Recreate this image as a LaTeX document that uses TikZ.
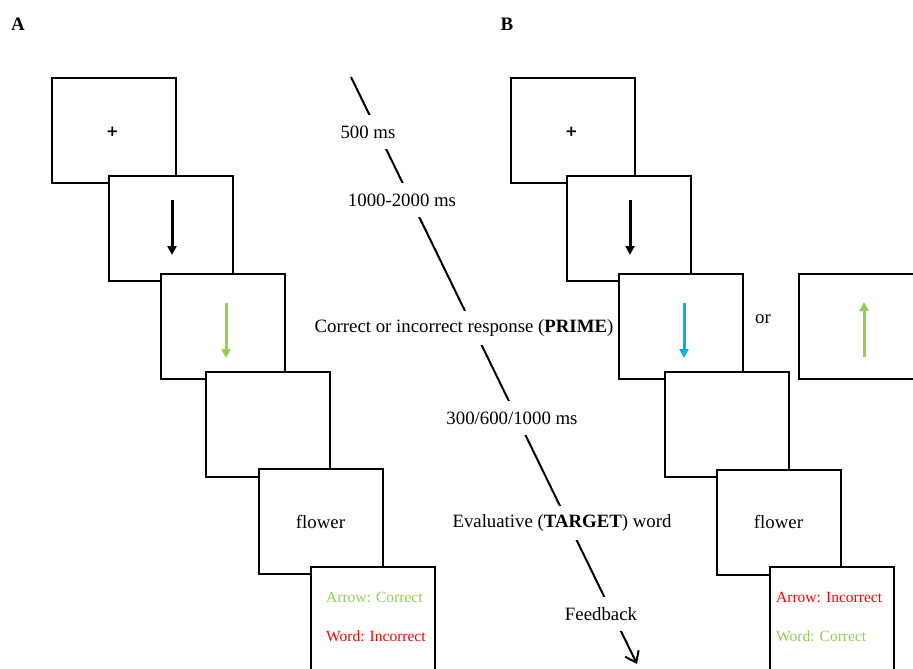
\documentclass[tikz,border=0pt]{standalone}
\usepackage{fontspec}
\setmainfont{Liberation Serif}
\newfontfamily\crossfont{DejaVu Sans}
\usetikzlibrary{arrows.meta}
\definecolor{ogreen}{RGB}{146,208,80}
\definecolor{oblue}{RGB}{0,176,240}
\definecolor{ored}{RGB}{255,0,0}
\begin{document}
\begin{tikzpicture}[x=1pt,y=-1pt,
  box/.style={draw,line width=2pt,fill=white,minimum width=124pt,minimum height=105pt,inner sep=0pt},
  lbl/.style={font=\fontsize{18.8}{22}\selectfont,fill=white,inner sep=1pt,minimum height=34pt},
  txt/.style={font=\fontsize{18.8}{22}\selectfont,inner sep=0pt},
  cross/.style={font=\crossfont\fontsize{15}{17}\selectfont\bfseries,inner sep=0pt},
  fb/.style={font=\fontsize{15.5}{18}\selectfont,inner sep=0pt,anchor=west},
  panel/.style={font=\fontsize{19}{22}\selectfont\bfseries,inner sep=0pt},
  stim/.style={line width=3pt,-{Triangle[length=9pt,width=9pt]}},
  timeline/.style={line width=2pt,-{Straight Barb[length=10pt,width=15pt,line width=2pt]}}]
\clip (0,0) rectangle (913,669);
\fill[white] (0,0) rectangle (913,669);
% panel labels
\node[panel] (pA) at (18,24) {A};
\node[panel] (pB) at (507,24) {B};
% panel A boxes
\node[box] (a1) at (113.5,130.5) {};
\node[cross] (a1c) at (112.5,132) {+};
\node[box] (a2) at (170.5,228) {};
\coordinate (a2s) at (172,200); \coordinate (a2e) at (172,255);
\draw[stim] (a2s) -- (a2e);
\node[box] (a3) at (223,326) {};
\coordinate (a3s) at (226,303); \coordinate (a3e) at (226,358);
\draw[stim,ogreen] (a3s) -- (a3e);
\node[box] (a4) at (268,424.5) {};
\node[box] (a5) at (320.5,521.5) {};
\node[txt] (a5t) at (a5) {flower};
\node[box] (a6) at (373,619.5) {};
\node[fb,text=ogreen] (a6a) at (326,597) {Arrow: Correct};
\node[fb,text=ored] (a6b) at (326,636) {Word: Incorrect};
% panel B boxes
\node[box] (b1) at (572.5,130.5) {};
\node[cross] (b1c) at (571.5,132) {+};
\node[box] (b2) at (628.5,228.5) {};
\coordinate (b2s) at (630,200); \coordinate (b2e) at (630,255);
\draw[stim] (b2s) -- (b2e);
\node[box] (b3) at (681,326) {};
\coordinate (b3s) at (684,303); \coordinate (b3e) at (684,358);
\draw[stim,oblue] (b3s) -- (b3e);
\node[box] (bx) at (861,326) {};
\coordinate (bxs) at (864,357); \coordinate (bxe) at (864,302);
\draw[stim,ogreen] (bxs) -- (bxe);
\node[txt] (or) at (763,319) {or};
\node[box] (b4) at (726.5,424.5) {};
\node[box] (b5) at (778.5,522) {};
\node[txt] (b5t) at (b5) {flower};
\node[box] (b6) at (832,619.5) {};
\node[fb,text=ored] (b6a) at (776,597) {Arrow: Incorrect};
\node[fb,text=ogreen] (b6b) at (776,636) {Word: Correct};
% timeline
\coordinate (tstart) at (351,77);
\coordinate (tend) at (637,664);
\draw[timeline] (tstart) -- (tend);
\node[lbl] (l1) at (368,132) {500 ms};
\node[lbl] (l2) at (402,200) {1000-2000 ms};
\node[lbl] (l3) at (464,328) {Correct or incorrect response (\textbf{PRIME})};
\node[lbl] (l4) at (512,418) {300/600/1000 ms};
\node[lbl] (l5) at (562,523) {Evaluative (\textbf{TARGET}) word};
\node[lbl] (l6) at (601,614) {Feedback};
\end{tikzpicture}
\end{document}
